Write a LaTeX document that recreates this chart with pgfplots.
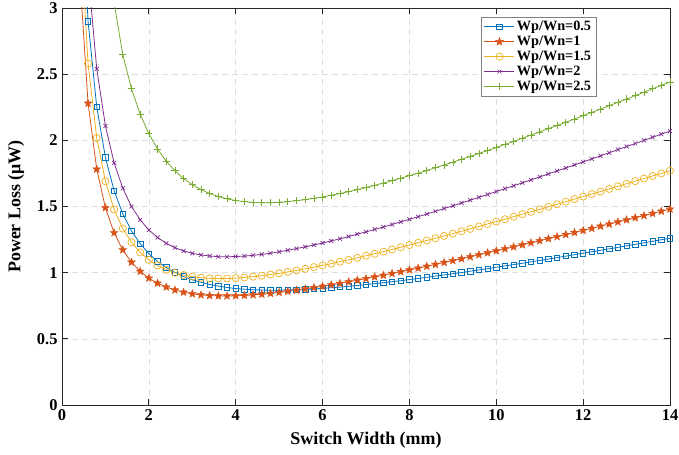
\documentclass[border=0pt]{standalone}
\usepackage{fontspec}
\setmainfont{Liberation Serif}
\usepackage{pgfplots}
\usepackage{pgfplotstable}
\pgfplotsset{compat=1.18}
\definecolor{mblue}{rgb}{0,0.447,0.741}
\definecolor{mred}{rgb}{0.85,0.325,0.098}
\definecolor{myellow}{rgb}{0.929,0.694,0.125}
\definecolor{mpurple}{rgb}{0.494,0.184,0.556}
\definecolor{mgreen}{rgb}{0.466,0.674,0.188}
\pgfdeclareplotmark{pstar}{%
  \pgfpathmoveto{\pgfpointpolar{90}{\pgfplotmarksize}}%
  \pgfpathlineto{\pgfpointpolar{126}{0.42\pgfplotmarksize}}%
  \pgfpathlineto{\pgfpointpolar{162}{\pgfplotmarksize}}%
  \pgfpathlineto{\pgfpointpolar{198}{0.42\pgfplotmarksize}}%
  \pgfpathlineto{\pgfpointpolar{234}{\pgfplotmarksize}}%
  \pgfpathlineto{\pgfpointpolar{270}{0.42\pgfplotmarksize}}%
  \pgfpathlineto{\pgfpointpolar{306}{\pgfplotmarksize}}%
  \pgfpathlineto{\pgfpointpolar{342}{0.42\pgfplotmarksize}}%
  \pgfpathlineto{\pgfpointpolar{18}{\pgfplotmarksize}}%
  \pgfpathlineto{\pgfpointpolar{54}{0.42\pgfplotmarksize}}%
  \pgfpathclose
  \pgfusepathqfillstroke}
\pgfplotstableread{
x b r y p g
0.4 4.208 3.294 3.724 4.771 8.197
0.6 2.900 2.280 2.580 3.275 5.567
0.8 2.253 1.782 2.018 2.540 4.267
1.0 1.870 1.490 1.690 2.109 3.499
1.2 1.619 1.301 1.478 1.830 3.040
1.4 1.444 1.172 1.333 1.638 2.646
1.6 1.316 1.079 1.229 1.500 2.390
1.8 1.219 1.010 1.153 1.399 2.198
2.0 1.144 0.959 1.097 1.323 2.050
2.2 1.085 0.920 1.054 1.266 1.934
2.4 1.039 0.891 1.022 1.222 1.842
2.6 1.001 0.869 0.999 1.189 1.770
2.8 0.971 0.852 0.982 1.164 1.711
3.0 0.946 0.840 0.970 1.146 1.665
3.2 0.927 0.832 0.962 1.134 1.627
3.4 0.911 0.827 0.957 1.126 1.598
3.6 0.898 0.824 0.956 1.121 1.575
3.8 0.888 0.824 0.956 1.120 1.558
4.0 0.880 0.825 0.959 1.122 1.545
4.2 0.875 0.828 0.964 1.125 1.537
4.4 0.871 0.832 0.970 1.131 1.531
4.6 0.869 0.837 0.977 1.138 1.529
4.8 0.867 0.843 0.986 1.147 1.529
5.0 0.868 0.851 0.995 1.158 1.532
5.2 0.869 0.859 1.006 1.169 1.537
5.4 0.871 0.867 1.017 1.182 1.544
5.6 0.873 0.877 1.029 1.195 1.552
5.8 0.877 0.887 1.042 1.209 1.562
6.0 0.881 0.897 1.055 1.224 1.572
6.2 0.886 0.908 1.068 1.240 1.585
6.4 0.891 0.919 1.083 1.256 1.598
6.6 0.897 0.931 1.097 1.273 1.612
6.8 0.903 0.943 1.112 1.291 1.627
7.0 0.910 0.955 1.128 1.308 1.643
7.2 0.917 0.968 1.143 1.327 1.660
7.4 0.924 0.980 1.159 1.345 1.677
7.6 0.932 0.994 1.175 1.364 1.695
7.8 0.939 1.007 1.192 1.384 1.714
8.0 0.948 1.021 1.209 1.403 1.733
8.2 0.956 1.034 1.226 1.423 1.752
8.4 0.965 1.048 1.243 1.443 1.772
8.6 0.974 1.062 1.260 1.464 1.793
8.8 0.983 1.077 1.278 1.485 1.814
9.0 0.992 1.091 1.295 1.505 1.835
9.2 1.001 1.105 1.313 1.527 1.857
9.4 1.011 1.120 1.331 1.548 1.878
9.6 1.021 1.135 1.349 1.569 1.901
9.8 1.030 1.150 1.368 1.591 1.923
10.0 1.041 1.165 1.386 1.613 1.946
10.2 1.051 1.180 1.404 1.635 1.969
10.4 1.061 1.195 1.423 1.657 1.992
10.6 1.071 1.210 1.442 1.679 2.016
10.8 1.082 1.226 1.460 1.701 2.040
11.0 1.092 1.241 1.479 1.724 2.064
11.2 1.103 1.257 1.498 1.746 2.088
11.4 1.114 1.272 1.517 1.769 2.112
11.6 1.125 1.288 1.536 1.791 2.137
11.8 1.136 1.303 1.556 1.814 2.161
12.0 1.147 1.319 1.575 1.837 2.186
12.2 1.158 1.335 1.594 1.860 2.211
12.4 1.169 1.351 1.613 1.883 2.236
12.6 1.180 1.367 1.633 1.906 2.262
12.8 1.191 1.383 1.652 1.930 2.287
13.0 1.203 1.399 1.672 1.953 2.312
13.2 1.214 1.415 1.692 1.976 2.338
13.4 1.226 1.431 1.711 2.000 2.364
13.6 1.237 1.447 1.731 2.023 2.390
13.8 1.249 1.464 1.750 2.047 2.415
14.0 1.260 1.480 1.770 2.070 2.441
}\datatable
\begin{document}
\begin{tikzpicture}
\begin{axis}[
  width=608bp, height=397bp, scale only axis,
  xmin=0, xmax=14, ymin=0, ymax=3,
  xtick={0,2,...,14}, ytick={0,0.5,1,1.5,2,2.5,3},
  /pgf/number format/assume math mode=true,
  /pgf/number format/fixed,
  ticklabel style={font=\fontsize{16.5}{19}\selectfont\bfseries},
  xticklabel style={yshift=-1bp},
  yticklabel style={xshift=-1bp},
  xlabel={Switch Width (mm)},
  ylabel={Power Loss (μW)},
  xlabel style={at={(axis description cs:0.5,-0.088)}, anchor=center},
  ylabel style={at={(axis description cs:-0.0757,0.5)}, anchor=center, rotate=0},
  label style={font=\fontsize{18}{21}\selectfont\bfseries},
  grid=major,
  major grid style={dash pattern=on 6bp off 4bp, black!13, line width=0.6pt},
  axis line style={black!85, line width=0.8pt},
  tick style={black!85, line width=0.8pt},
  tick align=inside,
  major tick length=6bp,
  legend cell align=left,
  legend style={at={(0.689,0.977)}, anchor=north west, draw=black!50,
    font=\fontsize{14.3}{16}\selectfont\bfseries, inner xsep=3pt, inner ysep=2pt,
    row sep=0pt},
  legend image code/.code={%
    \draw[mark repeat=2,mark phase=2] plot coordinates {(0bp,0bp) (15bp,0bp) (30bp,0bp)};},
  every axis plot/.append style={line width=0.8pt},
]
\addplot[color=mblue, mark=square, mark size=2.7bp, mark options={solid, line width=0.7pt}] table[x=x,y=b] {\datatable};
\addlegendentry{Wp/Wn=0.5\hspace{8bp}}
\addplot[color=mred, mark=pstar, mark size=4bp, mark options={solid, fill=mred, line width=0.5pt}] table[x=x,y=r] {\datatable};
\addlegendentry{Wp/Wn=1}
\addplot[color=myellow, mark=o, mark size=3.6bp, mark options={solid, line width=0.7pt}] table[x=x,y=y] {\datatable};
\addlegendentry{Wp/Wn=1.5\hspace{8bp}}
\addplot[color=mpurple, mark=x, mark size=2.8bp, mark options={solid, line width=0.7pt}] table[x=x,y=p] {\datatable};
\addlegendentry{Wp/Wn=2}
\addplot[color=mgreen, mark=+, mark size=3.6bp, mark options={solid, line width=0.7pt}] table[x=x,y=g] {\datatable};
\addlegendentry{Wp/Wn=2.5\hspace{8bp}}
\end{axis}
\pgfresetboundingbox
\path[use as bounding box] ([xshift=-62bp,yshift=-50bp]current axis.south west) rectangle ([xshift=9bp,yshift=8bp]current axis.north east);
\end{tikzpicture}
\end{document}
